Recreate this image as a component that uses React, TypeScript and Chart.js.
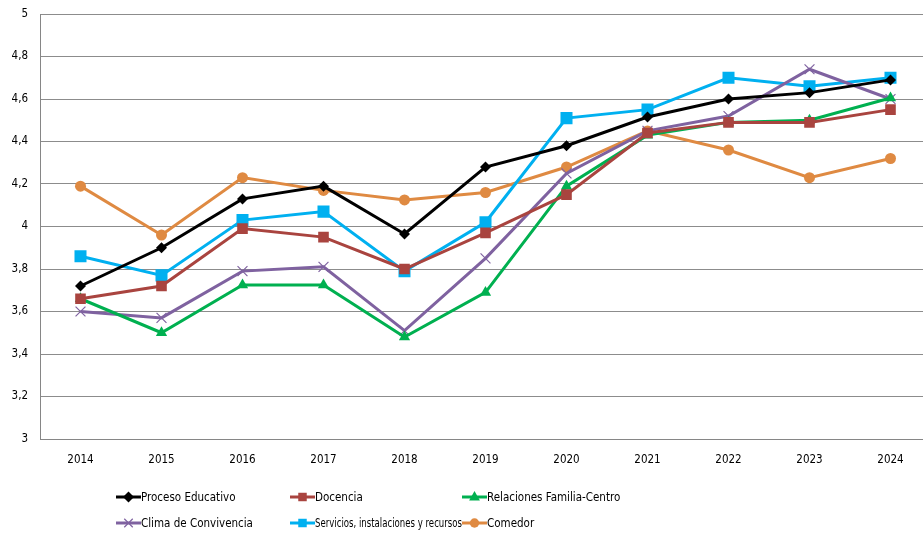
import React, { useEffect, useRef } from "react";
import { Chart, registerables } from "chart.js";

Chart.register(...registerables);

const years = ["2014", "2015", "2016", "2017", "2018", "2019", "2020", "2021", "2022", "2023", "2024"];
const yTicks = [3, 3.2, 3.4, 3.6, 3.8, 4, 4.2, 4.4, 4.6, 4.8, 5];

const procesoEducativo = [3.72, 3.9, 4.13, 4.19, 3.965, 4.28, 4.38, 4.515, 4.6, 4.63, 4.69];
const docencia = [3.66, 3.72, 3.99, 3.95, 3.8, 3.97, 4.15, 4.44, 4.49, 4.49, 4.55];
const relacionesFamilia = [3.66, 3.5, 3.725, 3.725, 3.48, 3.69, 4.19, 4.43, 4.49, 4.5, 4.605];
const climaConvivencia = [3.6, 3.57, 3.79, 3.81, 3.51, 3.85, 4.25, 4.45, 4.52, 4.74, 4.6];
const servicios = [3.86, 3.77, 4.03, 4.07, 3.79, 4.02, 4.51, 4.55, 4.7, 4.66, 4.7];
const comedor = [4.19, 3.96, 4.23, 4.17, 4.125, 4.16, 4.28, 4.45, 4.36, 4.23, 4.32];

const seriesNames = [
  "Proceso Educativo",
  "Docencia",
  "Relaciones Familia-Centro",
  "Clima de Convivencia",
  "Servicios, instalaciones y recursos",
  "Comedor",
];

const FONT = "'DejaVu Sans Condensed', 'Liberation Sans', sans-serif";

function drawMarker(ctx: CanvasRenderingContext2D, style: string, x: number, y: number, r: number) {
  ctx.beginPath();
  if (style === "rectRot") {
    ctx.moveTo(x, y - r);
    ctx.lineTo(x + r, y);
    ctx.lineTo(x, y + r);
    ctx.lineTo(x - r, y);
    ctx.closePath();
    ctx.fill();
  } else if (style === "rect") {
    const s = r * Math.SQRT1_2;
    ctx.rect(x - s, y - s, 2 * s, 2 * s);
    ctx.fill();
  } else if (style === "triangle") {
    ctx.moveTo(x, y - r);
    ctx.lineTo(x + r * 0.9, y + r * 0.6);
    ctx.lineTo(x - r * 0.9, y + r * 0.6);
    ctx.closePath();
    ctx.fill();
  } else if (style === "circle") {
    ctx.arc(x, y, r * 0.85, 0, Math.PI * 2);
    ctx.fill();
  } else if (style === "crossRot") {
    const s = r * Math.SQRT1_2;
    ctx.moveTo(x - s, y - s);
    ctx.lineTo(x + s, y + s);
    ctx.moveTo(x + s, y - s);
    ctx.lineTo(x - s, y + s);
    ctx.stroke();
  }
}

const legendPlugin = {
  id: "gridLegend",
  afterDraw(chart: any) {
    const ctx = chart.ctx;
    const cols = [116, 290, 462];
    const rows = [497, 523];
    chart.data.datasets.forEach((ds: any, i: number) => {
      const x = cols[i % 3];
      const y = rows[Math.floor(i / 3)];
      ctx.save();
      ctx.strokeStyle = ds.borderColor;
      ctx.lineWidth = 3;
      ctx.beginPath();
      ctx.moveTo(x, y);
      ctx.lineTo(x + 25, y);
      ctx.stroke();
      const r = Math.min(ds.pointRadius, 6);
      ctx.fillStyle = ds.pointBackgroundColor;
      ctx.strokeStyle = ds.pointBorderColor;
      ctx.lineWidth = 1.2;
      drawMarker(ctx, ds.pointStyle, x + 12.5, y, r);
      ctx.fillStyle = "#000";
      ctx.font = "11.5px " + FONT;
      ctx.textBaseline = "middle";
      ctx.textAlign = "left";
      ctx.fillText(seriesNames[i], x + 25, y + 1, 147);
      ctx.restore();
    });
  },
};

function mk(label: string, data: number[], color: string, pointStyle: string, radius: number) {
  return {
    label,
    data,
    borderColor: color,
    backgroundColor: color,
    pointBackgroundColor: color,
    pointBorderColor: color,
    pointStyle,
    pointRadius: radius,
    pointBorderWidth: pointStyle === "crossRot" ? 1.2 : 0,
    borderWidth: 3,
    tension: 0,
    fill: false,
  };
}

export default function App() {
  const ref = useRef<HTMLCanvasElement>(null);
  useEffect(() => {
    document.body.style.margin = "0";
    const chart = new Chart(ref.current as HTMLCanvasElement, {
      type: "line",
      data: {
        labels: years,
        datasets: [
          mk(seriesNames[0], procesoEducativo, "#000000", "rectRot", 5.5),
          mk(seriesNames[1], docencia, "#A9443F", "rect", 7.5),
          mk(seriesNames[2], relacionesFamilia, "#00B050", "triangle", 6.5),
          mk(seriesNames[3], climaConvivencia, "#7F62A0", "crossRot", 7),
          mk(seriesNames[4], servicios, "#00B0F0", "rect", 8.5),
          mk(seriesNames[5], comedor, "#DF8A42", "circle", 5.5),
        ] as any,
      },
      options: {
        animation: false,
        responsive: false,
        maintainAspectRatio: false,
        layout: { autoPadding: false, padding: { top: 14, right: 0, bottom: 60, left: 0 } },
        plugins: { legend: { display: false }, tooltip: { enabled: false } },
        scales: {
          x: {
            offset: true,
            grid: { display: false, drawTicks: false },
            border: { display: true, color: "#868686", width: 1 },
            ticks: { color: "#000", font: { family: FONT, size: 11.5 }, padding: 14, maxRotation: 0 },
            afterFit: (s: any) => {
              s.height = 34;
              s.paddingLeft = 0;
              s.paddingRight = 0;
            },
          },
          y: {
            min: 3,
            max: 5,
            afterBuildTicks: (s: any) => {
              s.ticks = yTicks.map((v) => ({ value: v }));
            },
            grid: { color: "#8C8C8C", lineWidth: 1, drawTicks: false },
            border: { display: true, color: "#868686", width: 1 },
            ticks: {
              color: "#000",
              font: { family: FONT, size: 11.5 },
              padding: 12,
              callback: (v: any) => String(v).replace(".", ","),
            },
            afterFit: (s: any) => {
              s.width = 40;
              s.paddingTop = 0;
              s.paddingBottom = 0;
            },
          },
        },
      },
      plugins: [legendPlugin],
    });
    return () => chart.destroy();
  }, []);
  return (
    <div style={{ width: 923, height: 533, background: "#fff", overflow: "hidden" }}>
      <canvas ref={ref} width={931} height={533} style={{ width: 931, height: 533, display: "block" }} />
    </div>
  );
}
